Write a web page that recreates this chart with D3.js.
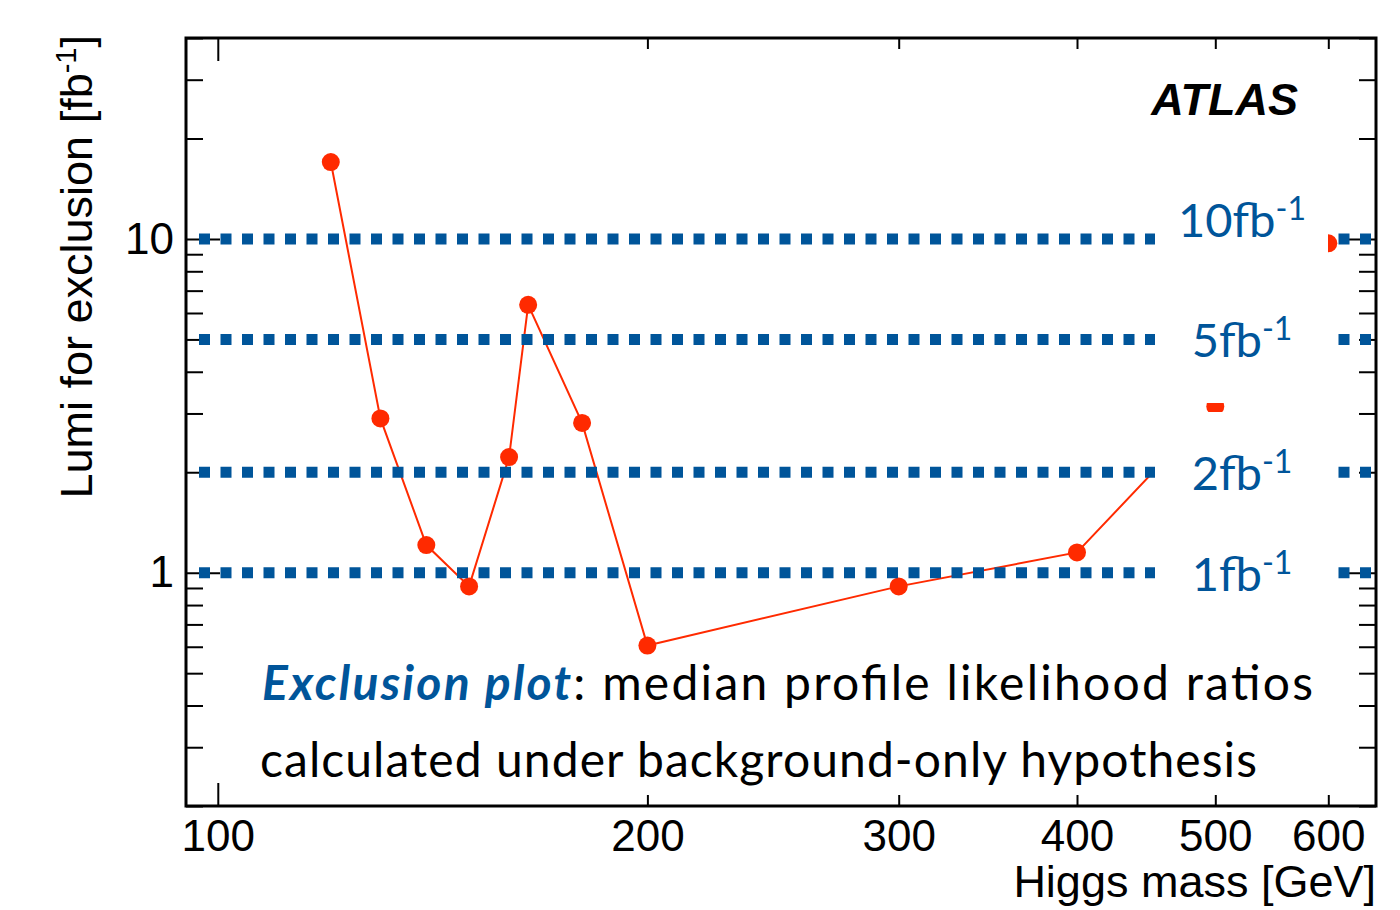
<!DOCTYPE html>
<html>
  <head>
    <meta charset="utf-8" />
    <title>Lumi for exclusion</title>
    <script src="https://d3js.org/d3.v7.min.js"></script>
    <style>
      body {
        margin: 0;
        background-color: white;
      }
      svg {
        display: block;
      }
      .axis text {
        font-family: "Liberation Sans", Arial, sans-serif;
        font-size: 44px;
        fill: black;
      }
    </style>
  </head>
  <body>
    <svg width="1400" height="910" id="chart"></svg>

    <script>
      // Higgs mass points [GeV]
      const masses = [120, 130, 140, 150, 160, 165, 180, 200, 300, 400, 500, 600];
      // median lumi needed for exclusion [fb-1]
      const lumi = [17.0, 2.9, 1.21, 0.91, 2.22, 6.35, 2.81, 0.605, 0.91, 1.15, 3.15, 9.7];
      // reference luminosities drawn as dotted lines
      const refLumi = [10, 5, 2, 1];
      const refNames = ["10fb", "5fb", "2fb", "1fb"];
      // axis ticks
      const xTicks = [100, 200, 300, 400, 500, 600];
      const yMajor = [1, 10];

      const red = "#ff2a00";
      const blue = "#00559a";

      const pLeft = 186, pRight = 1376, pTop = 38, pBottom = 806;
      const svg = d3.select("#chart");

      const x = d3.scaleLog().domain([95, 648]).range([pLeft, pRight]);
      const y = d3.scaleLog().domain([0.2, 40]).range([pBottom, pTop]);

      // axes first (ticks point inwards), the frame is drawn at the end
      svg.append("g")
        .attr("class", "axis")
        .attr("transform", `translate(0,${pBottom})`)
        .call(d3.axisBottom(x).tickValues(xTicks).tickSize(0).tickPadding(14)
          .tickFormat(d3.format("d")));
      svg.append("g")
        .attr("class", "axis")
        .attr("transform", `translate(0,${pBottom})`)
        .call(d3.axisBottom(x).tickValues(xTicks.filter(d => d !== 100)).tickSize(-11).tickFormat(""));
      svg.append("g")
        .attr("class", "axis")
        .attr("transform", `translate(0,${pBottom})`)
        .call(d3.axisBottom(x).tickValues([100]).tickSize(-23).tickFormat(""));
      svg.append("g")
        .attr("class", "axis")
        .attr("transform", `translate(0,${pTop})`)
        .call(d3.axisTop(x).tickValues(xTicks.filter(d => d !== 100)).tickSize(-11).tickFormat(""));
      svg.append("g")
        .attr("class", "axis")
        .attr("transform", `translate(0,${pTop})`)
        .call(d3.axisTop(x).tickValues([100]).tickSize(-23).tickFormat(""));

      const yMinor = y.ticks().filter(d => yMajor.indexOf(d) < 0);
      svg.append("g")
        .attr("class", "axis")
        .attr("transform", `translate(${pLeft},0)`)
        .call(d3.axisLeft(y).tickValues(yMajor).tickSize(-34).tickPadding(12)
          .tickFormat(d3.format("d")));
      svg.append("g")
        .attr("class", "axis")
        .attr("transform", `translate(${pLeft},0)`)
        .call(d3.axisLeft(y).tickValues(yMinor).tickSize(-17).tickFormat(""));
      svg.append("g")
        .attr("class", "axis")
        .attr("transform", `translate(${pRight},0)`)
        .call(d3.axisRight(y).tickValues(yMajor).tickSize(-34).tickFormat(""));
      svg.append("g")
        .attr("class", "axis")
        .attr("transform", `translate(${pRight},0)`)
        .call(d3.axisRight(y).tickValues(yMinor).tickSize(-17).tickFormat(""));

      svg.selectAll(".axis .domain").remove();
      svg.selectAll(".axis line").attr("stroke", "black").attr("stroke-width", 2);

      svg.append("clipPath").attr("id", "plot")
        .append("rect")
        .attr("x", pLeft).attr("y", pTop)
        .attr("width", pRight - pLeft).attr("height", pBottom - pTop);

      const plot = svg.append("g").attr("clip-path", "url(#plot)");

      // red curve + markers
      const points = masses.map((m, i) => ({ m: m, v: lumi[i] }));
      const line = d3.line().x(d => x(d.m)).y(d => y(d.v));

      plot.append("path")
        .datum(points)
        .attr("d", line)
        .attr("fill", "none")
        .attr("stroke", red)
        .attr("stroke-width", 2);

      plot.selectAll("circle")
        .data(points)
        .enter()
        .append("circle")
        .attr("cx", d => x(d.m))
        .attr("cy", d => y(d.v))
        .attr("r", 9)
        .attr("fill", red);

      // dotted reference lines
      plot.selectAll("line.ref")
        .data(refLumi)
        .enter()
        .append("line")
        .attr("class", "ref")
        .attr("x1", 199)
        .attr("x2", pRight)
        .attr("y1", d => y(d))
        .attr("y2", d => y(d))
        .attr("stroke", blue)
        .attr("stroke-width", 11)
        .attr("stroke-dasharray", "11 10.5");

      // white boxes behind the labels (leave the 500 GeV point peeking through)
      plot.append("rect")
        .attr("x", 1155).attr("y", 185)
        .attr("width", 173).attr("height", 218)
        .attr("fill", "white");
      plot.append("rect")
        .attr("x", 1155).attr("y", 412)
        .attr("width", 173).attr("height", 200)
        .attr("fill", "white");

      const refText = svg.selectAll("text.ref")
        .data(refLumi)
        .enter()
        .append("text")
        .attr("class", "ref")
        .attr("x", 1242)
        .attr("y", d => y(d) + (d === 10 ? -2 : 18))
        .attr("text-anchor", "middle")
        .attr("font-family", "Lato, 'Open Sans', sans-serif")
        .attr("font-size", 47)
        .attr("fill", blue);
      refText.append("tspan").text((d, i) => refNames[i]);
      refText.append("tspan")
        .attr("dy", -17)
        .attr("font-size", 32)
        .text("-1");

      svg.append("rect")
        .attr("x", pLeft).attr("y", pTop)
        .attr("width", pRight - pLeft).attr("height", pBottom - pTop)
        .attr("fill", "none")
        .attr("stroke", "black")
        .attr("stroke-width", 3);

      // axis titles
      const yTitle = svg.append("text")
        .attr("transform", "translate(92,35) rotate(-90)")
        .attr("text-anchor", "end")
        .attr("font-family", "'Liberation Sans', Arial, sans-serif")
        .attr("font-size", 45);
      yTitle.append("tspan").text("Lumi for exclusion [fb");
      yTitle.append("tspan").attr("dy", -16).attr("font-size", 29).text("-1");
      yTitle.append("tspan").attr("dy", 16).text("]");

      svg.append("text")
        .attr("x", pRight)
        .attr("y", 897)
        .attr("text-anchor", "end")
        .attr("font-family", "'Liberation Sans', Arial, sans-serif")
        .attr("font-size", 45)
        .text("Higgs mass [GeV]");

      svg.append("text")
        .attr("x", 1298)
        .attr("y", 115)
        .attr("text-anchor", "end")
        .attr("font-family", "'Liberation Sans', Arial, sans-serif")
        .attr("font-size", 45)
        .attr("font-weight", "bold")
        .attr("font-style", "italic")
        .text("ATLAS");

      // description
      const note1 = svg.append("text")
        .attr("x", 262)
        .attr("y", 700)
        .attr("textLength", 1051)
        .attr("lengthAdjust", "spacing")
        .attr("font-family", "Lato, 'Open Sans', sans-serif")
        .attr("font-size", 48);
      note1.append("tspan")
        .attr("fill", blue)
        .attr("font-weight", "bold")
        .attr("font-style", "italic")
        .text("Exclusion plot");
      note1.append("tspan").text(": median profile likelihood ratios");

      svg.append("text")
        .attr("x", 260)
        .attr("y", 777)
        .attr("textLength", 997)
        .attr("lengthAdjust", "spacing")
        .attr("font-family", "Lato, 'Open Sans', sans-serif")
        .attr("font-size", 48)
        .text("calculated under background-only hypothesis");
    </script>
  </body>
</html>
